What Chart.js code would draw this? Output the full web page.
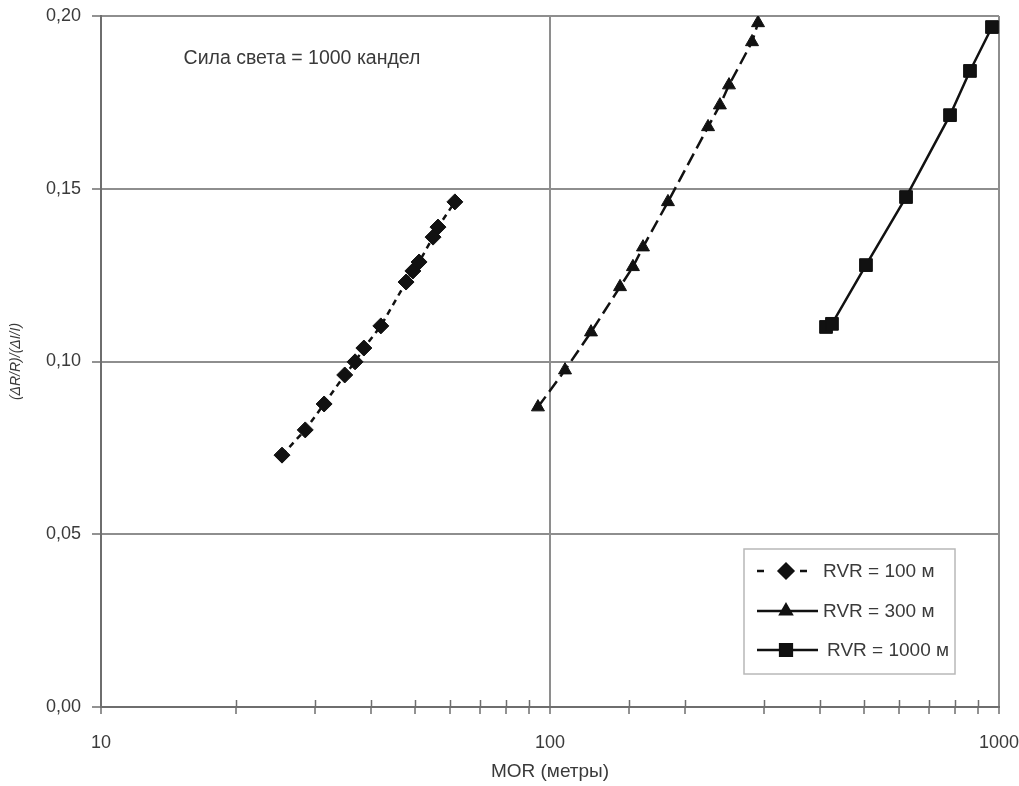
<!DOCTYPE html>
<html>
<head>
<meta charset="utf-8">
<title>MOR</title>
<script src="https://cdn.jsdelivr.net/npm/chart.js@4.4.1/dist/chart.umd.min.js"></script>
<style>
  html, body { margin: 0; padding: 0; background: #fff; }
  #wrap { width: 1019px; height: 786px; }
</style>
</head>
<body>
<div id="wrap"><canvas id="chart" width="1019" height="786"></canvas></div>
<script>
// MOR (m) and (dR/R)/(dI/I) for each RVR curve
const morRvr100 = [25.3, 28.5, 31.4, 34.9, 36.8, 38.5, 42.0, 47.8, 49.5, 51.1, 54.9, 56.3, 61.4];
const ratioRvr100 = [0.0729, 0.0802, 0.0877, 0.0961, 0.0999, 0.1039, 0.1103, 0.1230, 0.1262, 0.1288, 0.1360, 0.1389, 0.1462];
const morRvr300 = [94.0, 108.0, 123.4, 143.2, 153.0, 161.1, 183.1, 224.9, 239.0, 250.4, 281.8, 290.6];
const ratioRvr300 = [0.0868, 0.0975, 0.1085, 0.1216, 0.1274, 0.1331, 0.1462, 0.1679, 0.1742, 0.1800, 0.1925, 0.1980];
const morRvr1000 = [411.9, 424.6, 505.5, 620.8, 777.9, 861.7, 964.7];
const ratioRvr1000 = [0.1100, 0.1109, 0.1279, 0.1476, 0.1713, 0.1841, 0.1968];

const seriesNames = ['RVR = 100 м', 'RVR = 300 м', 'RVR = 1000 м'];
const xLabelledTicks = [10, 100, 1000];
const yTicks = [0, 0.05, 0.10, 0.15, 0.20];
const noteText = 'Сила света = 1000 кандел';

const FONT = 'Liberation Sans, Arial, sans-serif';
const GRID = '#8e8e8e';
const AXIS = '#6e6e6e';
const TEXT = '#3a3a3a';
const INK = '#111111';

Chart.defaults.font.family = FONT;
Chart.defaults.color = TEXT;

const pointsOf = (xs, ys) => xs.map((x, i) => ({ x: x, y: ys[i] }));
const isDecade = v => xLabelledTicks.includes(Math.round(v));

// short inner half of the minor log ticks on the x axis
const innerTicks = {
    id: 'innerTicks',
    afterDraw(chart) {
        const ctx = chart.ctx;
        const sx = chart.scales.x;
        const bottom = chart.chartArea.bottom;
        ctx.save();
        ctx.strokeStyle = AXIS;
        ctx.lineWidth = 1.5;
        sx.ticks.forEach(t => {
            if (isDecade(t.value)) return;
            const px = Math.round(sx.getPixelForValue(t.value)) + 0.5;
            ctx.beginPath();
            ctx.moveTo(px, bottom);
            ctx.lineTo(px, bottom - 7);
            ctx.stroke();
        });
        ctx.restore();
    }
};

// framed legend in the lower right corner of the plot
const boxLegend = {
    id: 'boxLegend',
    afterDraw(chart) {
        const ctx = chart.ctx;
        const area = chart.chartArea;
        const w = 211, h = 125;
        const left = area.right - 44 - w;
        const top = area.bottom - 33 - h;
        ctx.save();
        ctx.strokeStyle = '#b8b8b8';
        ctx.lineWidth = 1.5;
        ctx.strokeRect(left, top, w, h);
        const rows = [22, 62, 101];
        chart.data.datasets.forEach((ds, i) => {
            const y = top + rows[i];
            const x0 = left + 13, x1 = left + 74, xm = left + 42;
            ctx.save();
            ctx.strokeStyle = ds.borderColor;
            ctx.lineWidth = ds.borderWidth;
            ctx.setLineDash(i === 0 ? [7, 36] : []);
            ctx.beginPath();
            ctx.moveTo(x0, y);
            ctx.lineTo(x1, y);
            ctx.stroke();
            ctx.restore();
            ctx.fillStyle = ds.pointBackgroundColor;
            ctx.strokeStyle = ds.pointBorderColor;
            Chart.helpers.drawPoint(ctx, {
                pointStyle: ds.pointStyle,
                radius: ds.pointRadius,
                rotation: 0,
                borderWidth: 1
            }, xm, y);
            ctx.fillStyle = TEXT;
            ctx.font = '19px ' + FONT;
            ctx.textAlign = 'left';
            ctx.textBaseline = 'middle';
            ctx.fillText(ds.label, left + (i === 2 ? 83 : 79), y + 1);
        });
        ctx.restore();
    }
};

// caption in the upper left of the plot
const note = {
    id: 'note',
    afterDraw(chart) {
        const ctx = chart.ctx;
        const area = chart.chartArea;
        ctx.save();
        ctx.fillStyle = TEXT;
        ctx.font = '19.5px ' + FONT;
        ctx.textAlign = 'center';
        ctx.textBaseline = 'middle';
        ctx.fillText(noteText, area.left + 201, area.top + 43);
        ctx.restore();
    }
};

const lineSet = (label, xs, ys, style, radius, dash) => ({
    label: label,
    data: pointsOf(xs, ys),
    showLine: true,
    borderColor: INK,
    backgroundColor: INK,
    pointBackgroundColor: INK,
    pointBorderColor: INK,
    pointBorderWidth: 1,
    borderWidth: 2.5,
    borderDash: dash,
    pointStyle: style,
    pointRadius: radius,
    pointHoverRadius: radius,
    tension: 0
});

new Chart(document.getElementById('chart'), {
    type: 'scatter',
    data: {
        datasets: [
            lineSet(seriesNames[0], morRvr100, ratioRvr100, 'rectRot', 8, [6, 5]),
            lineSet(seriesNames[1], morRvr300, ratioRvr300, 'triangle', 7.5, [13, 6]),
            lineSet(seriesNames[2], morRvr1000, ratioRvr1000, 'rect', 9, [])
        ]
    },
    options: {
        responsive: false,
        animation: false,
        layout: { padding: { left: 6, top: 16, right: 20, bottom: 0 } },
        plugins: {
            legend: { display: false },
            tooltip: { enabled: false }
        },
        scales: {
            x: {
                type: 'logarithmic',
                position: 'bottom',
                min: 10,
                max: 1000,
                afterFit: s => {
                    s.height = 79;
                    s.paddingLeft = 0;
                    s.paddingRight = 0;
                },
                border: { color: AXIS, width: 2 },
                grid: {
                    color: c => (c.tick && isDecade(c.tick.value)) ? GRID : 'rgba(0,0,0,0)',
                    lineWidth: 2,
                    drawTicks: true,
                    tickLength: 7,
                    tickColor: AXIS,
                    tickWidth: 1.5
                },
                ticks: {
                    autoSkip: false,
                    maxRotation: 0,
                    padding: 18,
                    font: { size: 18 },
                    color: TEXT,
                    callback: v => isDecade(v) ? String(Math.round(v)) : ''
                },
                title: {
                    display: true,
                    text: 'MOR (метры)',
                    font: { size: 19 },
                    color: TEXT,
                    padding: { top: 3, bottom: 3 }
                }
            },
            y: {
                min: 0,
                max: 0.2,
                afterFit: s => {
                    s.width = 95;
                    s.paddingTop = 0;
                    s.paddingBottom = 0;
                },
                afterBuildTicks: s => { s.ticks = yTicks.map(v => ({ value: v })); },
                border: { color: AXIS, width: 2 },
                grid: {
                    color: GRID,
                    lineWidth: 2,
                    drawTicks: true,
                    tickLength: 9,
                    tickColor: AXIS,
                    tickWidth: 1.5
                },
                ticks: {
                    padding: 11,
                    font: { size: 18 },
                    color: TEXT,
                    callback: v => v.toFixed(2).replace('.', ',')
                },
                title: {
                    display: true,
                    text: '(ΔR/R)/(ΔI/I)',
                    font: { size: 14, style: 'italic' },
                    color: TEXT,
                    padding: { top: 2, bottom: 0 }
                }
            }
        }
    },
    plugins: [innerTicks, boxLegend, note]
});
</script>
</body>
</html>
